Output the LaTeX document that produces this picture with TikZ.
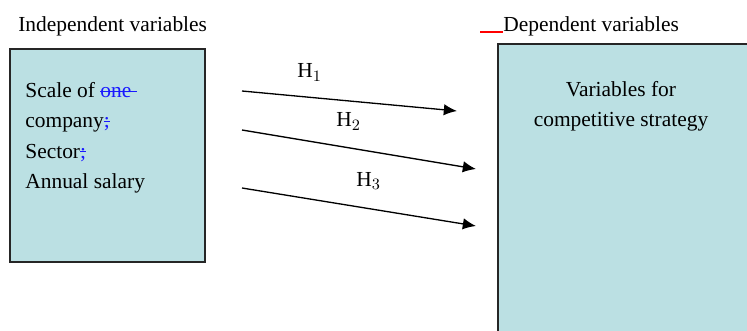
\documentclass[tikz,border=0pt]{standalone}
\usepackage{fontspec}
\setmainfont{Liberation Serif}
\usetikzlibrary{arrows.meta}
\definecolor{boxcyan}{RGB}{187,224,227}
\definecolor{editblue}{RGB}{25,25,255}
\newlength\strklen
\newcommand\strk[1]{\settowidth\strklen{#1}\textcolor{editblue}{\rlap{#1}\rule[0.27em]{\strklen}{0.06em}}}

\begin{document}
\begin{tikzpicture}[x=0.02cm,y=-0.02cm,
  varbox/.style={draw=black!85, line width=0.9pt, fill=boxcyan, anchor=north west, inner sep=0pt},
  txt/.style={font=\fontsize{12.2}{14}\selectfont, inner sep=0pt},
  hyp/.style={-{Latex[length=7.5pt,width=6.5pt]}, line width=0.75pt}]
\clip (0,0) rectangle (747,331);

%boxes
\node[varbox, minimum width=3.9cm, minimum height=4.26cm] (indep) at (9,48) {};
\node[varbox, minimum width=5.4cm, minimum height=6.2cm] (dep) at (497,43) {};

%headings
\node[txt, anchor=base west] (indeptitle) at (18,32) {Independent variables};
\node[txt, anchor=base west] (deptitle) at (503,32) {Dependent variables};
\coordinate (mark) at (480,32);
\draw[red, line width=1.1pt] (mark) -- (deptitle.base west);

%independent variables
\node[txt, anchor=base west] (scale) at (25,98) {Scale of \strk{one\ }};
\node[txt, anchor=base west] (company) at (25,128) {company\strk{;}};
\node[txt, anchor=base west] (sector) at (25,158) {Sector\strk{;}};
\node[txt, anchor=base west] (salary) at (25,188) {Annual salary};

%dependent variables
\node[txt, anchor=base] (depline1) at (621,97) {Variables for};
\node[txt, anchor=base] (depline2) at (621,127) {competitive strategy};

%hypotheses
\foreach \n/\ys/\xe/\ye/\xl/\yl in {1/91/457/111/297/78, 2/130/476/169/336/127, 3/188/476/226/356/186}{
  \coordinate (s\n) at (242,\ys);
  \coordinate (e\n) at (\xe,\ye);
  \draw[hyp] (s\n) -- (e\n);
  \node[txt, anchor=base west] (h\n) at (\xl,\yl) {H$_\n$};
}
\end{tikzpicture}
\end{document}
